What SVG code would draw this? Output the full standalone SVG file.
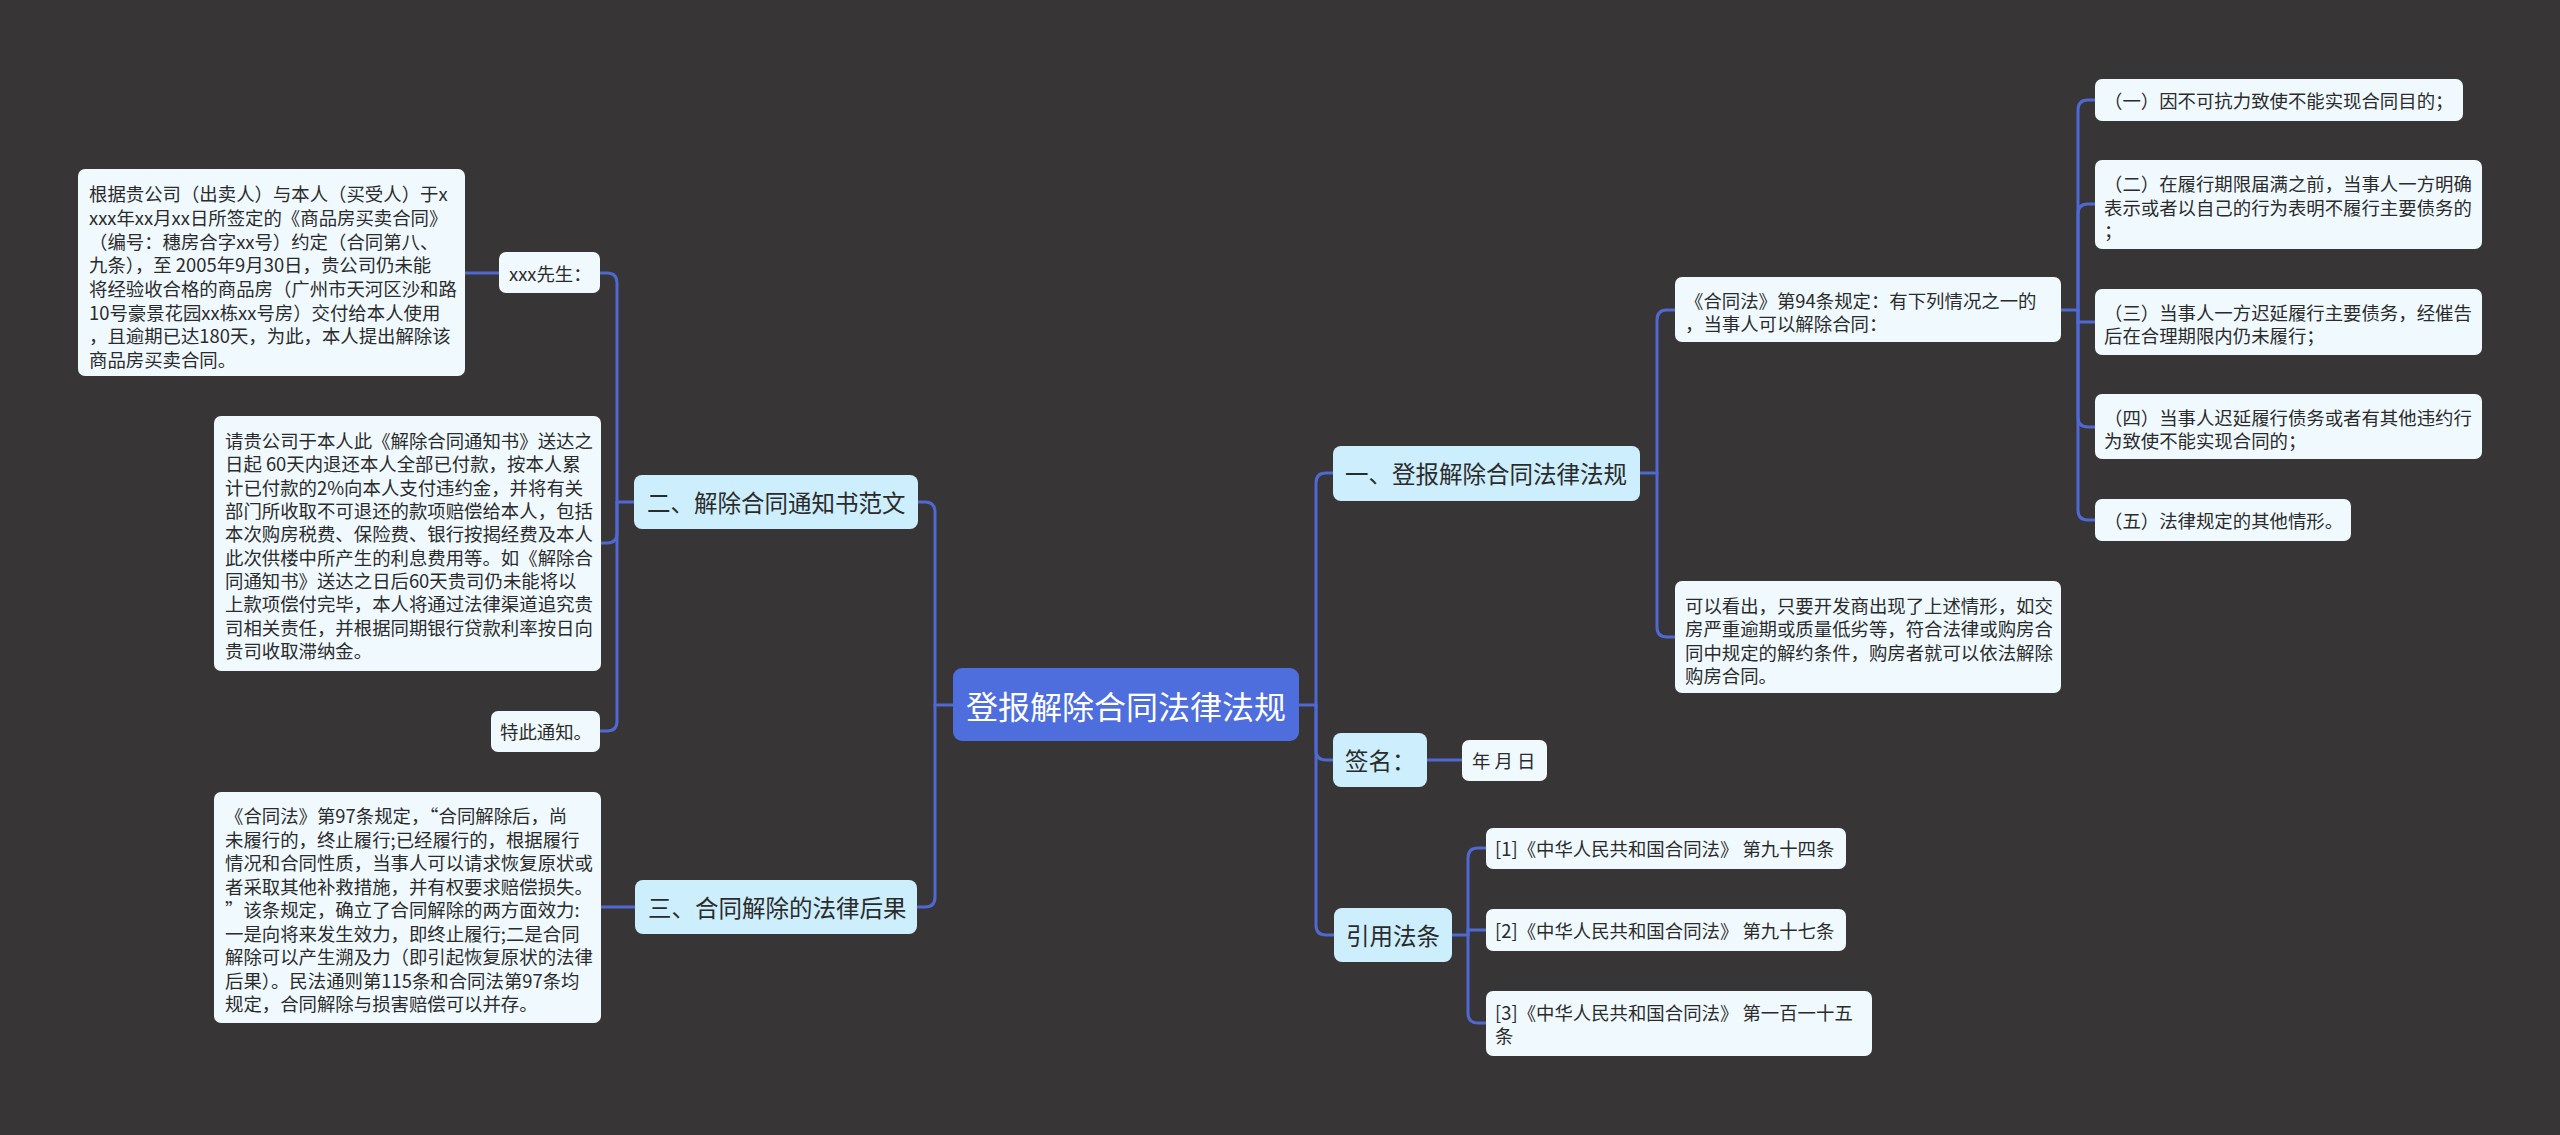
<svg xmlns="http://www.w3.org/2000/svg" width="2560" height="1135" viewBox="0 0 2560 1135">
<style>
text{font-family:"Noto Sans CJK SC","Noto Sans",sans-serif;fill:#2b2b2b;dominant-baseline:central}
.leaf rect{fill:#F0FAFE}
.branch rect{fill:#CDEEFC}
.root rect{fill:#4E6EDE}
.root text{fill:#ffffff;font-size:32px;text-anchor:middle}
.branch text{font-size:23.5px}
.leaf text{font-size:18.4px}
.conn path{fill:none;stroke:#4F68D2;stroke-width:3;stroke-linecap:round}
</style>
<rect x="0" y="0" width="2560" height="1135" fill="#373536"/>
<g class="conn" id="connectors">
<path d="M953 705 H935 V512 Q935 502 925 502 H918"/>
<path d="M935 705 V897 Q935 907 925 907 H918"/>
<path d="M634 502 H617 V283 Q617 273 607 273 H600"/>
<path d="M617 502 V533 Q617 543 607 543 H600"/>
<path d="M617 502 V721 Q617 731 607 731 H600"/>
<path d="M499 273 H465"/>
<path d="M635 907 H601"/>
<path d="M1299 705 H1316 V483 Q1316 473 1326 473 H1333"/>
<path d="M1316 705 V750 Q1316 760 1326 760 H1333"/>
<path d="M1316 705 V925 Q1316 935 1326 935 H1334"/>
<path d="M1640 473 H1657 V320 Q1657 310 1667 310 H1675"/>
<path d="M1657 473 V627 Q1657 637 1667 637 H1675"/>
<path d="M1427 760 H1462"/>
<path d="M1452 935 H1468 V858 Q1468 848 1478 848 H1486"/>
<path d="M1468 935 V930 H1486"/>
<path d="M1468 935 V1013 Q1468 1023 1478 1023 H1486"/>
<path d="M2061 310 H2078 V110 Q2078 100 2088 100 H2095"/>
<path d="M2078 310 V214 Q2078 204 2088 204 H2095"/>
<path d="M2078 310 V322 H2095"/>
<path d="M2078 310 V417 Q2078 427 2088 427 H2095"/>
<path d="M2078 310 V510 Q2078 520 2088 520 H2095"/>
</g>
<g class="root" id="root"><rect x="953" y="668" width="346" height="73" rx="9"/><text x="1126" y="705">登报解除合同法律法规</text></g>
<g class="branch" id="b2"><rect x="634" y="475" width="284" height="54" rx="8"/><text x="647" y="502">二、解除合同通知书范文</text></g>
<g class="branch" id="b3"><rect x="635" y="880" width="282" height="54" rx="8"/><text x="648" y="907">三、合同解除的法律后果</text></g>
<g class="branch" id="b1"><rect x="1333" y="446" width="307" height="55" rx="8"/><text x="1345" y="473">一、登报解除合同法律法规</text></g>
<g class="branch" id="bsign"><rect x="1333" y="733" width="94" height="54" rx="8"/><text x="1345" y="760">签名：</text></g>
<g class="branch" id="bref"><rect x="1334" y="908" width="118" height="54" rx="8"/><text x="1346" y="935">引用法条</text></g>
<g class="leaf" id="mr"><rect x="499" y="252" width="101" height="41" rx="7"/><text x="509" y="273">xxx先生：</text></g>
<g class="leaf" id="letter1"><rect x="78" y="169" width="387" height="207" rx="7"/>
<text x="89" y="193">根据贵公司（出卖人）与本人（买受人）于x</text>
<text x="89" y="217">xxx年xx月xx日所签定的《商品房买卖合同》</text>
<text x="89" y="241">（编号：穗房合字xx号）约定（合同第八、</text>
<text x="89" y="264">九条），至 2005年9月30日，贵公司仍未能</text>
<text x="89" y="288">将经验收合格的商品房（广州市天河区沙和路</text>
<text x="89" y="312">10号豪景花园xx栋xx号房）交付给本人使用</text>
<text x="89" y="335">，且逾期已达180天，为此，本人提出解除该</text>
<text x="89" y="359">商品房买卖合同。</text>
</g>
<g class="leaf" id="letter2"><rect x="214" y="416" width="387" height="255" rx="7"/>
<text x="225" y="440">请贵公司于本人此《解除合同通知书》送达之</text>
<text x="225" y="463">日起 60天内退还本人全部已付款，按本人累</text>
<text x="225" y="487">计已付款的2%向本人支付违约金，并将有关</text>
<text x="225" y="510">部门所收取不可退还的款项赔偿给本人，包括</text>
<text x="225" y="533">本次购房税费、保险费、银行按揭经费及本人</text>
<text x="225" y="557">此次供楼中所产生的利息费用等。如《解除合</text>
<text x="225" y="580">同通知书》送达之日后60天贵司仍未能将以</text>
<text x="225" y="603">上款项偿付完毕，本人将通过法律渠道追究贵</text>
<text x="225" y="627">司相关责任，并根据同期银行贷款利率按日向</text>
<text x="225" y="650">贵司收取滞纳金。</text>
</g>
<g class="leaf" id="notice"><rect x="491" y="711" width="109" height="41" rx="7"/><text x="500" y="731">特此通知。</text></g>
<g class="leaf" id="law97"><rect x="214" y="792" width="387" height="231" rx="7"/>
<text x="225" y="815">《合同法》第97条规定，“合同解除后，尚</text>
<text x="225" y="839">未履行的，终止履行;已经履行的，根据履行</text>
<text x="225" y="862">情况和合同性质，当事人可以请求恢复原状或</text>
<text x="225" y="886">者采取其他补救措施，并有权要求赔偿损失。</text>
<text x="225" y="909">”该条规定，确立了合同解除的两方面效力:</text>
<text x="225" y="933">一是向将来发生效力，即终止履行;二是合同</text>
<text x="225" y="956">解除可以产生溯及力（即引起恢复原状的法律</text>
<text x="225" y="980">后果）。民法通则第115条和合同法第97条均</text>
<text x="225" y="1003">规定，合同解除与损害赔偿可以并存。</text>
</g>
<g class="leaf" id="law94"><rect x="1675" y="277" width="386" height="65" rx="7"/>
<text x="1685" y="300">《合同法》第94条规定：有下列情况之一的</text>
<text x="1685" y="323">，当事人可以解除合同：</text>
</g>
<g class="leaf" id="conclude"><rect x="1675" y="581" width="386" height="112" rx="7"/>
<text x="1685" y="605">可以看出，只要开发商出现了上述情形，如交</text>
<text x="1685" y="628">房严重逾期或质量低劣等，符合法律或购房合</text>
<text x="1685" y="652">同中规定的解约条件，购房者就可以依法解除</text>
<text x="1685" y="675">购房合同。</text>
</g>
<g class="leaf" id="c1"><rect x="2095" y="79" width="368" height="42" rx="7"/><text x="2104" y="100">（一）因不可抗力致使不能实现合同目的；</text></g>
<g class="leaf" id="c2"><rect x="2095" y="160" width="387" height="89" rx="7"/>
<text x="2104" y="183">（二）在履行期限届满之前，当事人一方明确</text>
<text x="2104" y="207">表示或者以自己的行为表明不履行主要债务的</text>
<text x="2104" y="230">；</text>
</g>
<g class="leaf" id="c3"><rect x="2095" y="289" width="387" height="66" rx="7"/>
<text x="2104" y="312">（三）当事人一方迟延履行主要债务，经催告</text>
<text x="2104" y="335">后在合理期限内仍未履行；</text>
</g>
<g class="leaf" id="c4"><rect x="2095" y="394" width="387" height="65" rx="7"/>
<text x="2104" y="417">（四）当事人迟延履行债务或者有其他违约行</text>
<text x="2104" y="440">为致使不能实现合同的；</text>
</g>
<g class="leaf" id="c5"><rect x="2095" y="499" width="256" height="42" rx="7"/><text x="2104" y="520">（五）法律规定的其他情形。</text></g>
<g class="leaf" id="date"><rect x="1462" y="740" width="85" height="41" rx="7"/><text x="1472" y="760">年 月 日</text></g>
<g class="leaf" id="ref1"><rect x="1486" y="828" width="360" height="41" rx="7"/><text x="1495" y="848">[1]《中华人民共和国合同法》 第九十四条</text></g>
<g class="leaf" id="ref2"><rect x="1486" y="909" width="360" height="42" rx="7"/><text x="1495" y="930">[2]《中华人民共和国合同法》 第九十七条</text></g>
<g class="leaf" id="ref3"><rect x="1486" y="991" width="386" height="65" rx="7"/>
<text x="1495" y="1012">[3]《中华人民共和国合同法》 第一百一十五</text>
<text x="1495" y="1035">条</text>
</g>
</svg>
